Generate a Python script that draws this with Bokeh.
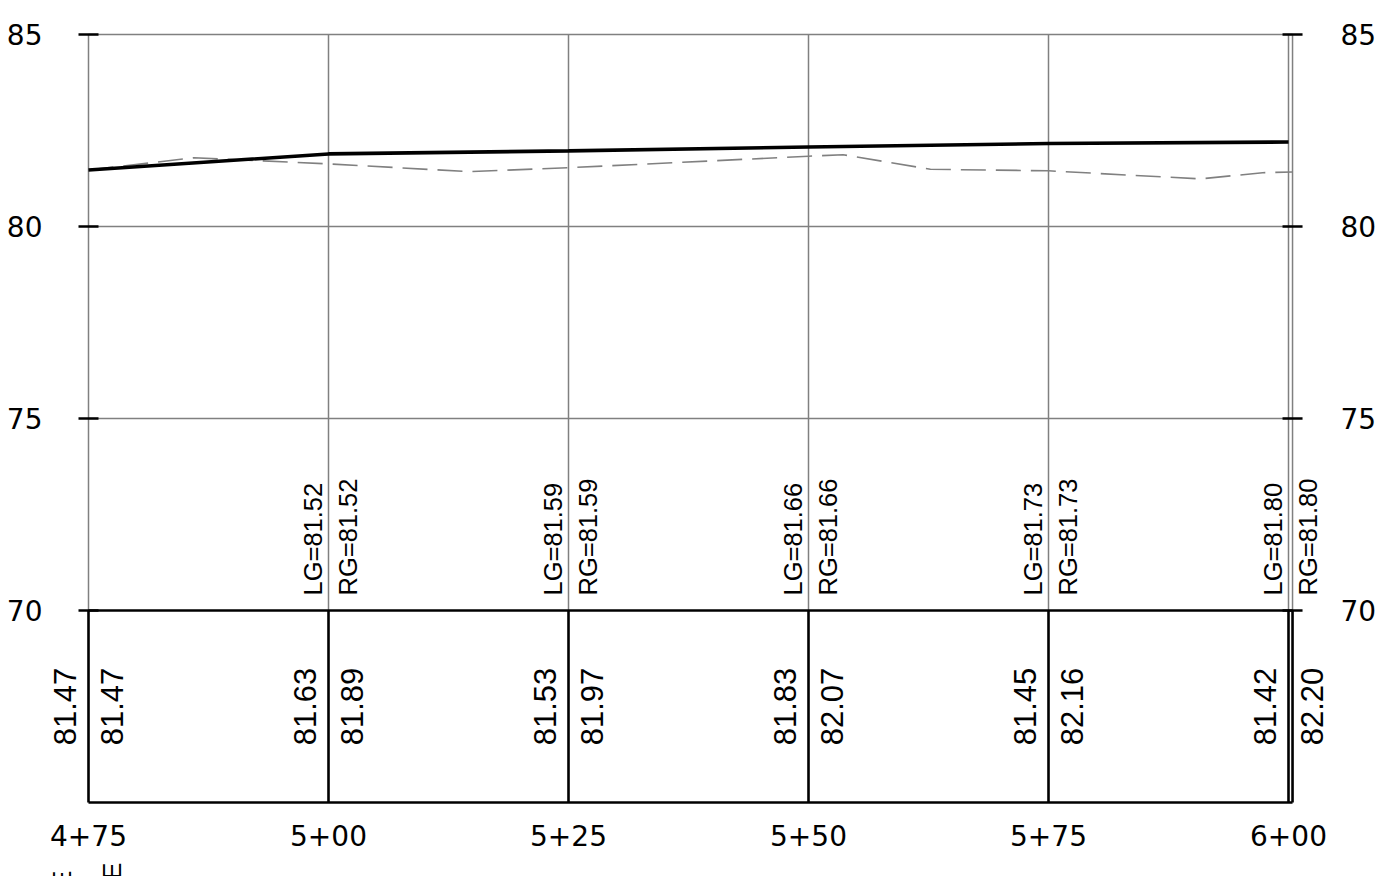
import math
from bokeh.plotting import figure
from bokeh.layouts import column
from bokeh.models import FixedTicker, Range1d, LinearAxis
from bokeh.core.properties import value
from bokeh.embed import file_html
from bokeh.resources import INLINE

# ---------------- data ----------------
stations = [475, 500, 525, 550, 575, 600]
profile_end = 600.42
existing_at_station = [81.47, 81.63, 81.53, 81.83, 81.45, 81.42]
proposed_at_station = [81.47, 81.89, 81.97, 82.07, 82.16, 82.20]
grade_stations = [500, 525, 550, 575, 600]
lg_values = [81.52, 81.59, 81.66, 81.73, 81.80]
rg_values = [81.52, 81.59, 81.66, 81.73, 81.80]
ground_stations = [475, 486, 500, 514.6, 525, 550, 553.6, 562.7, 575, 590.8, 597.3, 600.42]
ground_elev = [81.47, 81.79, 81.63, 81.43, 81.53, 81.83, 81.87, 81.49, 81.45, 81.24, 81.40, 81.42]
elev_ticks = [70, 75, 80, 85]
grid_elevs = [75, 80, 85]
band_top = 70
band_bottom = 65
legend_texts = ["EXISTING GRADE", "PROPOSED GRADE"]

# ---------------- layout (pixels) ----------------
W = 1380
H_MAIN, H_FOOT = 858, 18
BL, BR, BT, BB = 50, 52, 0, 43
PX_PER_STA = 9.6
PX_PER_EL = 38.4
x0_ref, y85_ref = 88, 34


def px_to_sta(px):
    return stations[0] + (px - x0_ref) / PX_PER_STA


def px_to_el(py):
    return elev_ticks[-1] - (py - y85_ref) / PX_PER_EL


x_range = Range1d(px_to_sta(BL), px_to_sta(W - BR))
y_range = Range1d(px_to_el(H_MAIN - BB), px_to_el(BT))

p = figure(width=W, height=H_MAIN, output_backend="svg", toolbar_location=None,
           x_range=x_range, y_range=y_range,
           min_border_left=BL, min_border_right=BR, min_border_top=BT,
           min_border_bottom=BB, x_axis_location="below", y_axis_location="left")
p.outline_line_color = None
p.grid.visible = False
p.background_fill_color = "white"
p.border_fill_color = "white"


def sta_label(s):
    s = int(round(s))
    return f"{s // 100}+{s % 100:02d}"


# axes
p.xaxis.ticker = FixedTicker(ticks=stations)
p.xaxis.major_label_overrides = {s: sta_label(s) for s in stations}
p.yaxis.ticker = FixedTicker(ticks=elev_ticks)
ry = LinearAxis(ticker=FixedTicker(ticks=elev_ticks))
p.add_layout(ry, "right")
for ax in [p.xaxis[0], p.yaxis[0], ry]:
    ax.axis_line_color = None
    ax.major_tick_line_color = None
    ax.minor_tick_line_color = None
    ax.major_tick_out = 0
    ax.major_tick_in = 0
    ax.major_label_text_font = "DejaVu Sans"
    ax.major_label_text_font_size = "28px"
    ax.major_label_text_color = "black"
p.yaxis[0].major_label_standoff = 8
ry.major_label_standoff = 12
p.xaxis[0].major_label_standoff = 9

GRAY = "#808080"
all_lines = stations + [profile_end]

# upper grid
p.segment(x0=all_lines, y0=[band_top] * len(all_lines), x1=all_lines,
          y1=[elev_ticks[-1]] * len(all_lines), line_color=GRAY, line_width=1.5)
p.segment(x0=[stations[0]] * len(grid_elevs), y0=grid_elevs,
          x1=[profile_end] * len(grid_elevs), y1=grid_elevs, line_color=GRAY, line_width=1.5)

# data band
p.segment(x0=[stations[0]] * 2, y0=[band_top, band_bottom], x1=[profile_end] * 2,
          y1=[band_top, band_bottom], line_color="black", line_width=2.5)
p.segment(x0=all_lines, y0=[band_bottom] * len(all_lines), x1=all_lines,
          y1=[band_top] * len(all_lines), line_color="black", line_width=2.6)

# tick marks on both frame edges
p.scatter(x=[stations[0]] * len(elev_ticks) + [profile_end] * len(elev_ticks),
          y=elev_ticks + elev_ticks, marker="dash", size=20, line_color="black",
          line_width=2.5)

# ground (existing) and proposed profile
p.line(ground_stations, ground_elev, line_color=GRAY, line_width=1.6, line_dash="25 10")
p.line(stations, proposed_at_station, line_color="black", line_width=3.6)

# band values
band_mid = (band_top + band_bottom) / 2
p.text(x=stations, y=[band_mid] * len(stations), text=[f"{v:.2f}" for v in existing_at_station],
       angle=math.pi / 2, text_align="center", text_baseline="middle", x_offset=-23.5,
       text_font=value("Liberation Sans"), text_font_size=value("31px"), text_color="black")
p.text(x=stations, y=[band_mid] * len(stations), text=[f"{v:.2f}" for v in proposed_at_station],
       angle=math.pi / 2, text_align="center", text_baseline="middle", x_offset=23.5,
       text_font=value("Liberation Sans"), text_font_size=value("31px"), text_color="black")

# LG / RG labels
p.text(x=grade_stations, y=[band_top] * len(grade_stations), text=[f"LG={v:.2f}" for v in lg_values],
       angle=math.pi / 2, text_align="left", text_baseline="middle", x_offset=-16, y_offset=-15,
       text_font=value("Liberation Sans"), text_font_size=value("25.5px"), text_color="black")
p.text(x=grade_stations, y=[band_top] * len(grade_stations), text=[f"RG={v:.2f}" for v in rg_values],
       angle=math.pi / 2, text_align="left", text_baseline="middle", x_offset=19.5, y_offset=-15,
       text_font=value("Liberation Sans"), text_font_size=value("25.5px"), text_color="black")

# ---------------- footer strip: band legend labels (cut by the page bottom) ----------------
p2 = figure(width=W, height=H_FOOT, output_backend="svg", toolbar_location=None,
            x_range=x_range,
            y_range=Range1d(px_to_el(H_MAIN + H_FOOT), px_to_el(H_MAIN)),
            min_border_left=BL, min_border_right=BR, min_border_top=0, min_border_bottom=0,
            x_axis_location=None, y_axis_location=None)
p2.outline_line_color = None
p2.grid.visible = False
p2.text(x=[stations[0], stations[0]], y=[px_to_el(870), px_to_el(862)], text=legend_texts,
        angle=math.pi / 2, text_align="right", text_baseline="middle", x_offset=[-27, 23.5],
        text_font=value("Liberation Sans"), text_font_size=value("25px"), text_color="black")

layout = column(p, p2, spacing=0)
open("out.html", "w").write(file_html(layout, INLINE))
